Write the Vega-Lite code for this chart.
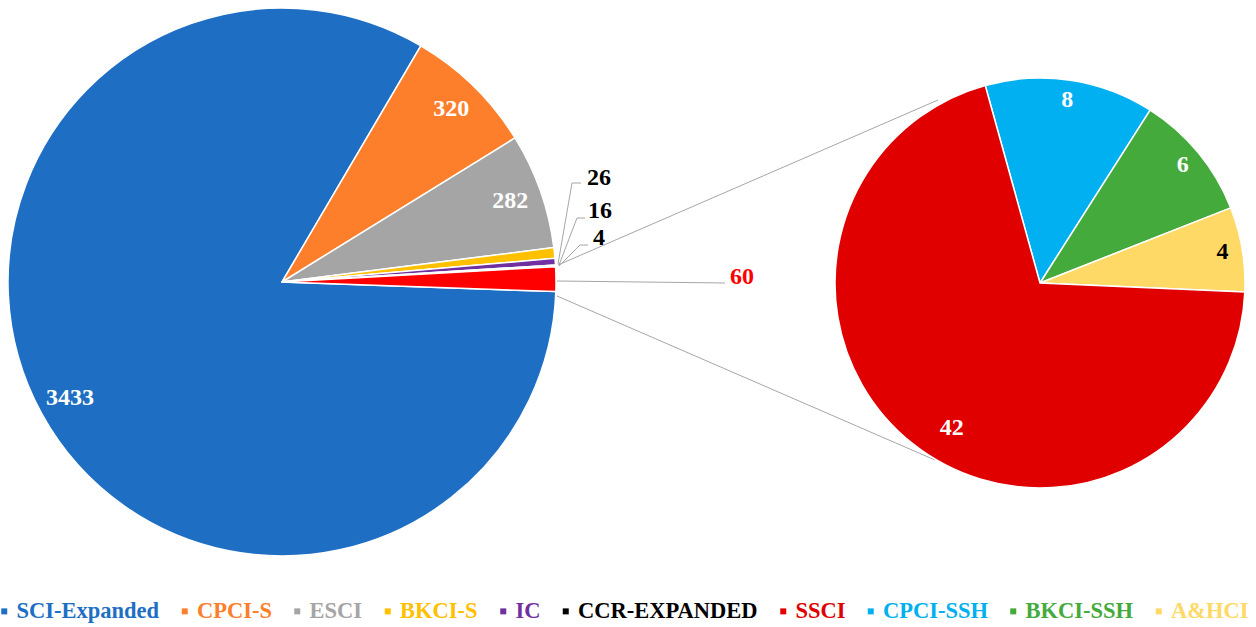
{
  "$schema": "https://vega.github.io/schema/vega-lite/v6.json",
  "width": 1256,
  "height": 627,
  "padding": 0,
  "autosize": {"type": "none"},
  "background": "white",
  "config": {"view": {"stroke": null}},
  "datasets": {
    "main": [
      {"name": "SCI-Expanded", "n": 3433, "ord": 1},
      {"name": "CPCI-S", "n": 320, "ord": 2},
      {"name": "ESCI", "n": 282, "ord": 3},
      {"name": "BKCI-S", "n": 26, "ord": 4},
      {"name": "IC", "n": 16, "ord": 5},
      {"name": "CCR-EXPANDED", "n": 4, "ord": 6},
      {"name": "Other", "n": 60, "ord": 7}
    ],
    "sub": [
      {"name": "CPCI-SSH", "n": 8, "ord": 1},
      {"name": "BKCI-SSH", "n": 6, "ord": 2},
      {"name": "A&HCI", "n": 4, "ord": 3},
      {"name": "SSCI", "n": 42, "ord": 4}
    ],
    "segments": [
      {"x1": 558, "y1": 265, "x2": 938, "y2": 100},
      {"x1": 557, "y1": 296, "x2": 935, "y2": 460},
      {"x1": 557, "y1": 281, "x2": 725, "y2": 283},
      {"x1": 558, "y1": 264, "x2": 572, "y2": 183},
      {"x1": 572, "y1": 183, "x2": 581, "y2": 183},
      {"x1": 559, "y1": 265, "x2": 577, "y2": 218},
      {"x1": 577, "y1": 218, "x2": 585, "y2": 218},
      {"x1": 559, "y1": 266, "x2": 580, "y2": 245},
      {"x1": 580, "y1": 245, "x2": 588, "y2": 245}
    ],
    "notes": [
      {"label": "26", "lx": 599, "ly": 178},
      {"label": "16", "lx": 600, "ly": 211},
      {"label": "4", "lx": 599, "ly": 238},
      {"label": "60", "lx": 742, "ly": 277}
    ]
  },
  "resolve": {"scale": {"theta": "independent"}},
  "layer": [
    {
      "data": {"name": "segments"},
      "mark": {"type": "rule", "stroke": "#A6A6A6", "strokeWidth": 1},
      "encoding": {
        "x": {"field": "x1", "type": "quantitative", "scale": {"domain": [0, 1256], "nice": false, "zero": false}, "axis": null},
        "y": {"field": "y1", "type": "quantitative", "scale": {"domain": [0, 627], "nice": false, "zero": false, "reverse": true}, "axis": null},
        "x2": {"field": "x2"},
        "y2": {"field": "y2"}
      }
    },
    {
      "data": {"name": "main"},
      "layer": [
        {
          "mark": {"type": "arc", "outerRadius": 274, "stroke": "white", "strokeWidth": 1.5},
          "encoding": {
            "x": {"datum": 282, "type": "quantitative", "scale": {"domain": [0, 1256], "nice": false, "zero": false}, "axis": null},
            "y": {"datum": 282, "type": "quantitative", "scale": {"domain": [0, 627], "nice": false, "zero": false, "reverse": true}, "axis": null},
            "theta": {"field": "n", "type": "quantitative", "stack": true, "scale": {"range": [1.6057, 7.8889]}},
            "order": {"field": "ord", "type": "quantitative"},
            "color": {
              "field": "name",
              "type": "nominal",
              "scale": {
                "domain": ["SCI-Expanded", "CPCI-S", "ESCI", "BKCI-S", "IC", "CCR-EXPANDED", "Other", "SSCI", "CPCI-SSH", "BKCI-SSH", "A&HCI"],
                "range": ["#1E6FC4", "#FD7F2C", "#A5A5A5", "#FFC000", "#7030A0", "#000000", "#FF0000", "#E00000", "#00B0F0", "#44AA3C", "#FFD966"]
              },
              "legend": {
                "values": ["SCI-Expanded", "CPCI-S", "ESCI", "BKCI-S", "IC", "CCR-EXPANDED", "SSCI", "CPCI-SSH", "BKCI-SSH", "A&HCI"],
                "orient": "none",
                "legendX": -7,
                "legendY": 600,
                "padding": 0,
                "direction": "horizontal",
                "columns": 10,
                "title": null,
                "symbolType": "square",
                "symbolSize": 36,
                "symbolStrokeWidth": 0,
                "labelFont": "Liberation Serif",
                "labelFontWeight": "bold",
                "labelFontSize": 22.5,
                "labelColor": {"expr": "scale('color', datum.value)"},
                "labelOffset": 1,
                "labelLimit": 400,
                "columnPadding": 13.5
              }
            }
          }
        },
        {
          "mark": {"type": "text", "radius": 242, "font": "Liberation Serif", "fontWeight": "bold", "fontSize": 24, "fill": "white", "align": "center", "baseline": "middle"},
          "encoding": {
            "x": {"datum": 282, "type": "quantitative", "scale": {"domain": [0, 1256], "nice": false, "zero": false}, "axis": null},
            "y": {"datum": 282, "type": "quantitative", "scale": {"domain": [0, 627], "nice": false, "zero": false, "reverse": true}, "axis": null},
            "theta": {"field": "n", "type": "quantitative", "stack": true, "scale": {"range": [1.6057, 7.8889]}},
            "order": {"field": "ord", "type": "quantitative"},
            "detail": {"field": "name", "type": "nominal"},
            "text": {"condition": {"test": "datum.n >= 100", "field": "n", "type": "quantitative"}, "value": ""}
          }
        }
      ]
    },
    {
      "data": {"name": "sub"},
      "layer": [
        {
          "mark": {"type": "arc", "outerRadius": 205, "stroke": "white", "strokeWidth": 1.5},
          "encoding": {
            "x": {"datum": 1040, "type": "quantitative", "scale": {"domain": [0, 1256], "nice": false, "zero": false}, "axis": null},
            "y": {"datum": 283, "type": "quantitative", "scale": {"domain": [0, 627], "nice": false, "zero": false, "reverse": true}, "axis": null},
            "theta": {"field": "n", "type": "quantitative", "stack": true, "scale": {"range": [-0.2705, 6.0127]}},
            "order": {"field": "ord", "type": "quantitative"},
            "color": {"field": "name", "type": "nominal"}
          }
        },
        {
          "mark": {"type": "text", "radius": 185, "font": "Liberation Serif", "fontWeight": "bold", "fontSize": 24, "align": "center", "baseline": "middle"},
          "encoding": {
            "x": {"datum": 1040, "type": "quantitative", "scale": {"domain": [0, 1256], "nice": false, "zero": false}, "axis": null},
            "y": {"datum": 283, "type": "quantitative", "scale": {"domain": [0, 627], "nice": false, "zero": false, "reverse": true}, "axis": null},
            "theta": {"field": "n", "type": "quantitative", "stack": true, "scale": {"range": [-0.2705, 6.0127]}},
            "order": {"field": "ord", "type": "quantitative"},
            "detail": {"field": "name", "type": "nominal"},
            "text": {"condition": {"test": "datum.name !== 'SSCI'", "field": "n", "type": "quantitative"}, "value": ""},
            "fill": {"condition": {"test": "datum.name === 'A&HCI'", "value": "#000000"}, "value": "#FFFFFF"}
          }
        },
        {
          "mark": {"type": "text", "radius": 169, "dx": 17, "dy": 13, "font": "Liberation Serif", "fontWeight": "bold", "fontSize": 24, "fill": "white", "align": "center", "baseline": "middle"},
          "encoding": {
            "x": {"datum": 1040, "type": "quantitative", "scale": {"domain": [0, 1256], "nice": false, "zero": false}, "axis": null},
            "y": {"datum": 283, "type": "quantitative", "scale": {"domain": [0, 627], "nice": false, "zero": false, "reverse": true}, "axis": null},
            "theta": {"field": "n", "type": "quantitative", "stack": true, "scale": {"range": [-0.2705, 6.0127]}},
            "order": {"field": "ord", "type": "quantitative"},
            "detail": {"field": "name", "type": "nominal"},
            "text": {"condition": {"test": "datum.name === 'SSCI'", "field": "n", "type": "quantitative"}, "value": ""}
          }
        }
      ]
    },
    {
      "data": {"name": "notes"},
      "mark": {"type": "text", "font": "Liberation Serif", "fontWeight": "bold", "fontSize": 24, "align": "center", "baseline": "middle"},
      "encoding": {
        "x": {"field": "lx", "type": "quantitative", "scale": {"domain": [0, 1256], "nice": false, "zero": false}, "axis": null},
        "y": {"field": "ly", "type": "quantitative", "scale": {"domain": [0, 627], "nice": false, "zero": false, "reverse": true}, "axis": null},
        "text": {"field": "label", "type": "nominal"},
        "fill": {"condition": {"test": "datum.label === '60'", "value": "#FF0000"}, "value": "#000000"}
      }
    }
  ]
}
